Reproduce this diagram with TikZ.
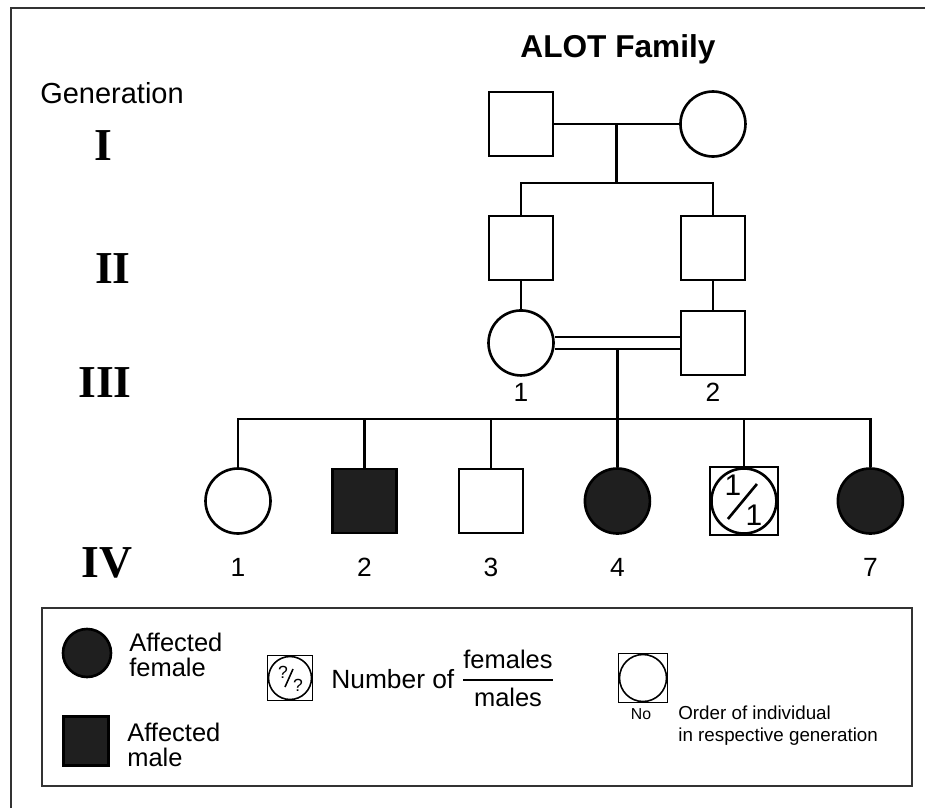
\documentclass[tikz,border=0pt]{standalone}
\usepackage{fontspec}
\setmainfont{Liberation Sans}
\newfontfamily\gennumfont{Liberation Serif}
\usetikzlibrary{positioning}

\begin{document}
\begin{tikzpicture}[x=0.02cm,y=-0.02cm,line width=1.5pt,node distance=2.53cm,
		male/.style={draw,rectangle,minimum size=1.28cm,inner sep=0pt},
		female/.style={draw,circle,minimum size=1.3cm,inner sep=0pt},
		affected/.style={fill=black!88},
		gen/.style={font=\gennumfont\bfseries\fontsize{26}{26}\selectfont,anchor=base},
		num/.style={font=\fontsize{15}{15}\selectfont,anchor=base},
		key/.style={line width=0.9pt},
		keytext/.style={font=\fontsize{14.5}{14.5}\selectfont,align=left,anchor=west,inner sep=0pt}]

		\useasboundingbox (0,0) rectangle (925,808);
		\draw[line width=1.2pt,black!80] (11,808) -- (11,8) -- (925,8);

		% title and generations
		\node[font=\bfseries\fontsize{18}{18}\selectfont,anchor=base] (title) at (618,57) {ALOT Family};
		\node[font=\fontsize{16.5}{16.5}\selectfont,anchor=base west,inner sep=0pt] (genlabel) at (39,103) {Generation};
		\node[gen] (g1) at (103,160) {I};
		\node[gen] (g2) at (113,283) {II};
		\node[gen] (g3) at (105,397) {III};
		\node[gen] (g4) at (107,577) {IV};

		% generation I and II
		\node[male] (Im) at (521,124) {};
		\node[female] (If) [right of=Im, node distance=3.84cm] {};
		\node[male] (IIa) [below of=Im, node distance=2.48cm] {};
		\node[male] (IIb) [below of=If, node distance=2.48cm] {};

		% generation III
		\node[female] (IIIf) [below of=IIa, node distance=1.9cm] {};
		\node[male] (IIIm) [below of=IIb, node distance=1.9cm] {};
		\coordinate (IIIrow) at (0,401);
		\node[num] (n31) at (IIIf |- IIIrow) {1};
		\node[num] (n32) at (IIIm |- IIIrow) {2};

		% generation IV
		\node[female] (IVa) at (238,501) {};
		\node[male,affected] (IVb) [right of=IVa] {};
		\node[male] (IVc) [right of=IVb] {};
		\node[female,affected] (IVd) [right of=IVc] {};
		\node[male,minimum size=1.36cm] (IVe) [right of=IVd] {};
		\node[female] (IVecirc) at (IVe) {};
		\node[font=\fontsize{17}{17}\selectfont,inner sep=0pt] (IVetop) at ([shift={(-11,-16)}]IVe.center) {1};
		\node[font=\fontsize{17}{17}\selectfont,inner sep=0pt] (IVebot) at ([shift={(10,14)}]IVe.center) {1};
		\draw[line width=1.5pt] ([shift={(-16,18)}]IVe.center) -- ([shift={(13,-17)}]IVe.center);
		\node[female,affected] (IVf) [right of=IVe] {};
		\coordinate (IVrow) at (0,576);
		\node[num] (n41) at (IVa |- IVrow) {1};
		\node[num] (n42) at (IVb |- IVrow) {2};
		\node[num] (n43) at (IVc |- IVrow) {3};
		\node[num] (n44) at (IVd |- IVrow) {4};
		\node[num] (n47) at (IVf |- IVrow) {7};

		% lines of descent
		\draw (Im) -- node[coordinate,pos=.5] (Imid) {} (If);
		\coordinate (IIsib) at (Imid |- 0,183);
		\draw (Imid) -- (IIsib);
		\draw (IIa.north) |- (IIsib) -| (IIb.north);
		\draw (IIa) -- (IIIf);
		\draw (IIb) -- (IIIm);
		\path (IIIf) -- node[coordinate,pos=.5] (IIImid) {} (IIIm);
		\coordinate (IVsib) at (IIImid |- 0,419);
		\draw (IIImid) -- (IVsib);
		\draw[double,double distance=5.2pt] (IIIf) -- (IIIm);
		\draw (IVa.north) |- (IVsib) -| (IVf.north);
		\foreach \kid in {IVb,IVc,IVd,IVe}
		\draw (\kid.north) -- (\kid.north |- IVsib);

		% key
		\draw[line width=1.2pt,black!80] (42,608) rectangle (912,786);
		\node[female,affected,minimum size=0.96cm] (keyf) at (87,653) {};
		\node[keytext] (keyftext) at (128,655) {Affected\\female};
		\node[male,affected,minimum width=0.9cm,minimum height=0.98cm] (keym) at (86,741) {};
		\node[keytext] (keymtext) at (126,745) {Affected\\male};

		\node[male,key,minimum size=0.9cm] (keyn) at (290,678) {};
		\node[female,key,minimum size=0.86cm] (keyncirc) at (keyn) {};
		\node[font=\fontsize{10}{10}\selectfont,inner sep=0pt] (keyq1) at ([shift={(-7,-6)}]keyn.center) {?};
		\node[font=\fontsize{10}{10}\selectfont,inner sep=0pt] (keyq2) at ([shift={(8,7)}]keyn.center) {?};
		\draw[line width=0.9pt] ([shift={(-5,9)}]keyn.center) -- ([shift={(3,-9)}]keyn.center);
		\node[font=\fontsize{15}{15}\selectfont,anchor=base west,inner sep=0pt] (keyntext) at (330,688) {Number of};
		\node[font=\fontsize{14.5}{14.5}\selectfont,anchor=base] (keyfem) at (508,668) {females};
		\draw[line width=1.1pt] (463,680) -- (553,680);
		\node[font=\fontsize{14.5}{14.5}\selectfont,anchor=base] (keymal) at (508,706) {males};

		\node[male,key,minimum size=0.98cm] (keyo) at (643,678) {};
		\node[female,key,minimum size=0.94cm] (keyocirc) at (keyo) {};
		\node[font=\fontsize{9}{9}\selectfont,anchor=base] (keyno) at (641,719) {No};
		\node[font=\fontsize{10.7}{12}\selectfont,anchor=base west,align=left,inner sep=0pt] (keyotext) at (677,741) {Order of individual\\in respective generation};
	\end{tikzpicture}
\end{document}
